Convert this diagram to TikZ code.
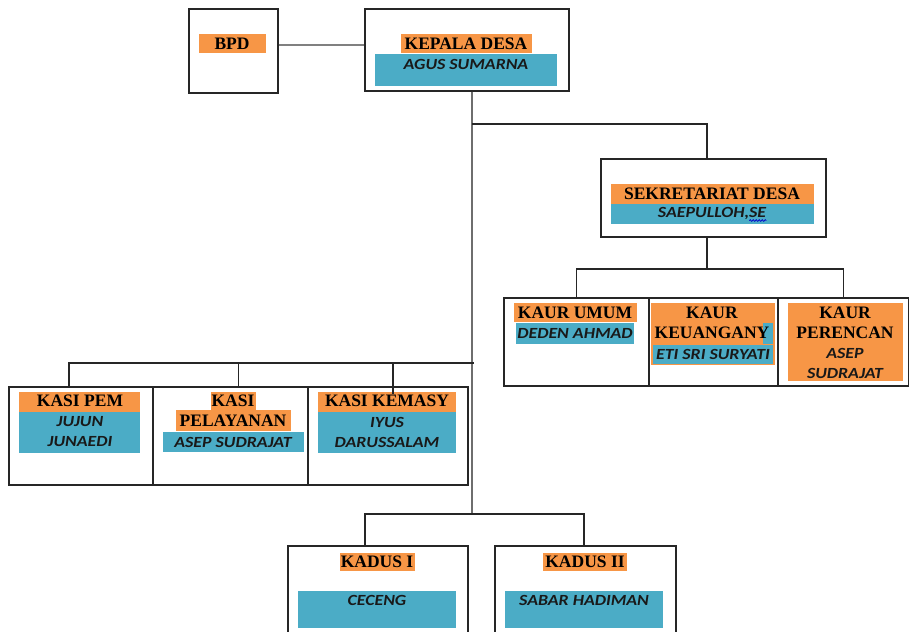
\documentclass[tikz,border=0pt]{standalone}
\usepackage{fontspec}
\setmainfont{Liberation Serif}
\newfontfamily\namefont[FakeStretch=1.15]{Carlito}
\usetikzlibrary{decorations.pathmorphing}
\definecolor{hlorange}{HTML}{F79646}
\definecolor{hlblue}{HTML}{4BACC6}
\definecolor{boxline}{HTML}{262626}
\definecolor{trunkgray}{HTML}{6E6E6E}
\tikzset{
  orgbox/.style={draw=boxline, line width=1.6pt, anchor=north west, inner sep=0pt},
  ttl/.style={font=\bfseries\fontsize{17.5}{19}\selectfont, inner sep=0pt, text=black},
  nm/.style={font=\namefont\bfseries\itshape\fontsize{15.5}{19}\selectfont, inner sep=0pt, text=black!90},
  conn/.style={draw=boxline, line width=1.5pt},
  trunk/.style={draw=trunkgray, line width=1.8pt},
  ohl/.style={fill=hlorange},
  bhl/.style={fill=hlblue}
}
\begin{document}
\begin{tikzpicture}[x=1pt,y=-1pt]
\useasboundingbox (0,0) rectangle (909,631);

% ---------- boxes ----------
\node[orgbox, minimum width=89pt, minimum height=84pt] (bpd) at (188,8) {};
\node[orgbox, minimum width=204pt, minimum height=82pt] (kepala) at (364,8) {};
\node[orgbox, minimum width=225pt, minimum height=78pt] (sek) at (600,158) {};
\node[orgbox, minimum width=145pt, minimum height=88pt] (kumum) at (503,297) {};
\node[orgbox, minimum width=129pt, minimum height=88pt] (kkeu) at (648,297) {};
\node[orgbox, minimum width=131pt, minimum height=88pt] (kper) at (777,297) {};
\node[orgbox, minimum width=144pt, minimum height=98pt] (kpem) at (8,386) {};
\node[orgbox, minimum width=155pt, minimum height=98pt] (kpel) at (152,386) {};
\node[orgbox, minimum width=160pt, minimum height=98pt] (kkem) at (307,386) {};
\node[orgbox, minimum width=180pt, minimum height=90pt] (kd1) at (287,545) {};
\node[orgbox, minimum width=181pt, minimum height=90pt] (kd2) at (494,545) {};

% ---------- highlights ----------
\fill[ohl] (199,34) rectangle (266,53);
\fill[ohl] (401,34) rectangle (532,53);
\fill[bhl] (375,54) rectangle (557,86);
\fill[ohl] (611,184) rectangle (814,204);
\fill[bhl] (611,204) rectangle (814,224);
\fill[ohl] (514,303) rectangle (637,322);
\fill[bhl] (516,323) rectangle (634,344);
\fill[ohl] (651,303) rectangle (775,365);
\fill[bhl] (763,323) rectangle (773,344);
\fill[bhl] (653,345) rectangle (773,364);
\fill[ohl] (788,303) rectangle (903,381);
\fill[ohl] (19,392) rectangle (140,412);
\fill[bhl] (19,412) rectangle (140,453);
\fill[ohl] (211,392) rectangle (256,410);
\fill[ohl] (176,410) rectangle (291,431);
\fill[bhl] (163,432) rectangle (304,452);
\fill[ohl] (318,392) rectangle (456,412);
\fill[bhl] (318,412) rectangle (456,453);
\fill[ohl] (340,553) rectangle (415,571);
\fill[bhl] (298,591) rectangle (456,628);
\fill[ohl] (543,553) rectangle (627,571);
\fill[bhl] (505,591) rectangle (663,628);

% ---------- junctions ----------
\coordinate (jsek) at (472,124);
\coordinate (jkasi) at (472,363);
\coordinate (jkadus) at (472,514);
\coordinate (jkaur) at (707,269);

% ---------- connectors ----------
\draw[draw=gray, line width=1.8pt] ([yshift=6pt]bpd.east) -- ([yshift=6pt]bpd.east -| kepala.west);
\draw[trunk] (jsek |- kepala.south) -- (jkadus);
\draw[conn] (jsek) -| (jkaur |- sek.north);
\draw[conn] (jkaur |- sek.south) -- (jkaur);
\draw[conn] (kumum.north) |- (jkaur) -| (kper.north);
\draw[conn] ([xshift=-12pt]kpem.north) |- ([xshift=2pt]jkasi);
\draw[conn] ([xshift=8pt]kpel.north) -- ([xshift=8pt]kpel.north |- jkasi);
\draw[conn] ([xshift=5pt,yshift=-8pt]kkem.north) -- ([xshift=5pt]kkem.north |- jkasi);
\draw[conn] ([xshift=-13pt]kd1.north) |- (jkadus) -| ([xshift=-1.5pt]kd2.north);

% ---------- texts ----------
\node[ttl] (tbpd) at (232,44) {BPD};
\node[ttl] (tkep) at (466,44) {KEPALA DESA};
\node[nm] (nkep) at (466,64) {AGUS SUMARNA};
\node[ttl] (tsek) at (712,194) {SEKRETARIAT DESA};
\node[nm] (nsek) at (712,213) {SAEPULLOH,SE};
\draw[draw=blue!80!black, line width=0.7pt, decorate, decoration={snake, amplitude=0.9pt, segment length=3pt}]
  ([xshift=-17pt,yshift=-3.5pt]nsek.base east) -- ([yshift=-3.5pt]nsek.base east);
\node[ttl] (tkum) at (575,313) {KAUR UMUM};
\node[nm] (nkum) at (575,333) {DEDEN AHMAD};
\node[ttl] (tkeu1) at (712,313) {KAUR};
\node[ttl] (tkeu2) at (712,333) {KEUANGANY};
\node[nm] (nkeu) at (713,354) {ETI SRI SURYATI};
\node[ttl] (tper1) at (845,313) {KAUR};
\node[ttl] (tper2) at (845,333) {PERENCAN};
\node[nm] (nper1) at (845,353) {ASEP};
\node[nm] (nper2) at (845,373) {SUDRAJAT};
\node[ttl] (tpem) at (80,401) {KASI PEM};
\node[nm] (npem1) at (80,422) {JUJUN};
\node[nm] (npem2) at (80,442) {JUNAEDI};
\node[ttl] (tpel1) at (233,401) {KASI};
\node[ttl] (tpel2) at (233,421) {PELAYANAN};
\node[nm] (npel) at (233,442) {ASEP SUDRAJAT};
\node[ttl] (tkem) at (387,401) {KASI KEMASY};
\node[nm] (nkem1) at (387,422) {IYUS};
\node[nm] (nkem2) at (387,442) {DARUSSALAM};
\node[ttl] (tkd1) at (377,562) {KADUS I};
\node[nm] (nkd1) at (377,600) {CECENG};
\node[ttl] (tkd2) at (585,562) {KADUS II};
\node[nm] (nkd2) at (584,600) {SABAR HADIMAN};
\end{tikzpicture}
\end{document}
